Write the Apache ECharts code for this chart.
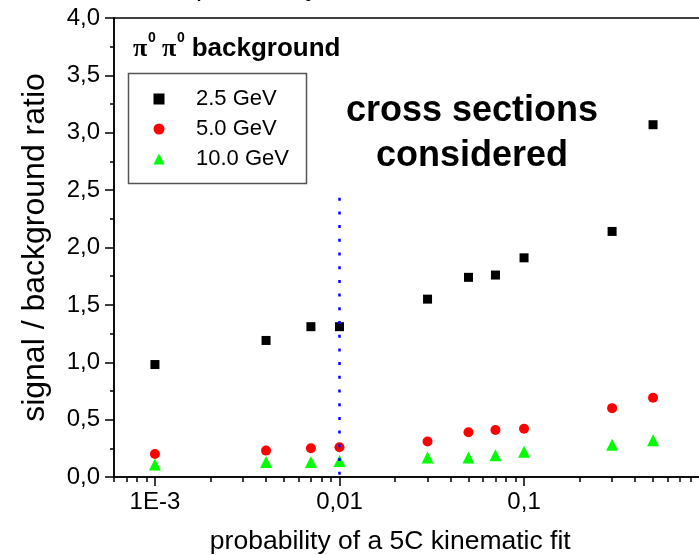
<!DOCTYPE html>
<html><head><meta charset="utf-8">
<script src="https://cdn.jsdelivr.net/npm/echarts@6/dist/echarts.min.js"></script>
<style>html,body{margin:0;padding:0;background:#fff;}#c{width:699px;height:555px;}</style>
</head><body><div id="c"></div>
<script>
// ---- data ----
const probabilities = [0.001, 0.004, 0.007, 0.01, 0.03, 0.05, 0.07, 0.1, 0.3, 0.5];
const ratio25GeV = [0.98, 1.19, 1.31, 1.31, 1.55, 1.74, 1.76, 1.91, 2.14, 3.07];
const ratio50GeV = [0.20, 0.23, 0.25, 0.26, 0.31, 0.39, 0.41, 0.42, 0.60, 0.69];
const ratio100GeV = [0.11, 0.13, 0.13, 0.14, 0.17, 0.17, 0.19, 0.22, 0.28, 0.32];
const seriesNames = ['2.5 GeV', '5.0 GeV', '10.0 GeV'];
const cutProbability = 0.01;
const cutLineRange = [0.02, 2.44];
const xMajorTicks = [0.001, 0.01, 0.1];
const xMajorLabels = ['1E-3', '0,01', '0,1'];
const xMinorTicks = [0.0006, 0.0007, 0.0008, 0.0009,
  0.002, 0.003, 0.004, 0.005, 0.006, 0.007, 0.008, 0.009,
  0.02, 0.03, 0.04, 0.05, 0.06, 0.07, 0.08, 0.09,
  0.2, 0.3, 0.4, 0.5, 0.6, 0.7, 0.8, 0.9];
const xRange = [0.0006, 1];
const yRange = [0, 4];
const yStep = 0.5;

const FONT = "'Liberation Sans', Arial, sans-serif";
const pairs = ys => probabilities.map((p, i) => [p, ys[i]]);

const chart = echarts.init(document.getElementById('c'), null, {renderer: 'canvas'});
chart.setOption({
  animation: false,
  backgroundColor: '#ffffff',
  grid: {left: 114, top: 18, width: 594.6, height: 459, containLabel: false, outerBoundsMode: 'none',
    show: true, borderColor: '#000', borderWidth: 1.5, backgroundColor: 'transparent'},
  xAxis: [{
    type: 'log', logBase: 10, min: xRange[0], max: xRange[1],
    position: 'bottom',
    name: 'probability of a 5C kinematic fit', nameLocation: 'middle', nameGap: 51,
    nameTextStyle: {fontFamily: FONT, fontSize: 26.5, color: '#000', padding: [0, 42, 0, 0]},
    axisLine: {lineStyle: {color: '#000', width: 1.5}},
    axisTick: {show: true, inside: false, length: 9, lineStyle: {color: '#000', width: 1.5}, customValues: xMajorTicks},
    axisLabel: {fontFamily: FONT, fontSize: 24, color: '#000', margin: 13, customValues: xMajorTicks,
      formatter: v => { const i = xMajorTicks.findIndex(t => Math.abs(Math.log10(t) - Math.log10(v)) < 1e-6); return i >= 0 ? xMajorLabels[i] : ''; }},
    splitLine: {show: false}, minorTick: {show: false}
  }, {
    type: 'log', logBase: 10, min: xRange[0], max: xRange[1],
    position: 'bottom',
    axisLine: {show: false},
    axisTick: {show: true, inside: false, length: 5, lineStyle: {color: '#000', width: 1.5}, customValues: xMinorTicks},
    axisLabel: {show: false},
    splitLine: {show: false}
  }],
  yAxis: {
    type: 'value', min: yRange[0], max: yRange[1], interval: yStep,
    name: 'signal / background ratio', nameLocation: 'middle', nameGap: 63,
    nameTextStyle: {fontFamily: FONT, fontSize: 32, color: '#000'},
    axisLine: {show: true, lineStyle: {color: '#000', width: 1.5}},
    axisTick: {show: true, inside: false, length: 9, lineStyle: {color: '#000', width: 1.5}},
    minorTick: {show: true, splitNumber: 2, length: 4, lineStyle: {color: '#000', width: 1.5}},
    axisLabel: {fontFamily: FONT, fontSize: 24, color: '#000', margin: 14, formatter: v => v.toFixed(1).replace('.', ',')},
    splitLine: {show: false}
  },
  legend: {
    data: seriesNames, orient: 'vertical', left: 153.5, top: 87, padding: 0,
    itemWidth: 11, itemHeight: 11, itemGap: 6, symbolKeepAspect: true,
    textStyle: {fontFamily: FONT, fontSize: 22, color: '#000', lineHeight: 24, padding: [0, 0, 0, 26.5]}
  },
  series: [
    {name: seriesNames[0], type: 'scatter', symbol: 'rect', symbolSize: 9, itemStyle: {color: '#000', opacity: 1}, data: pairs(ratio25GeV), z: 3},
    {name: seriesNames[1], type: 'scatter', symbol: 'circle', symbolSize: 10, itemStyle: {color: '#ff0000', opacity: 1}, data: pairs(ratio50GeV), z: 3},
    {name: seriesNames[2], type: 'scatter', symbol: 'triangle', symbolSize: 12, itemStyle: {color: '#00ff00', opacity: 1}, data: pairs(ratio100GeV), z: 3},
    {name: 'cut', type: 'line', showSymbol: false, symbol: 'none', silent: true, z: 4,
      lineStyle: {color: '#0000ff', width: 2.5, type: [3, 10.7], opacity: 1},
      data: [[cutProbability, cutLineRange[0]], [cutProbability, cutLineRange[1]]]}
  ],
  graphic: [
    {type: 'rect', shape: {x: 128.5, y: 73.5, width: 178, height: 110}, style: {fill: 'none', stroke: '#555', lineWidth: 1.5}, z: 10},
    {type: 'text', x: 133, y: 49.5, style: {text: 'π', font: "bold 26px 'Liberation Serif', serif", fill: '#000', verticalAlign: 'middle'}, z: 10},
    {type: 'text', x: 148, y: 38, style: {text: '0', font: "bold 14px 'Liberation Sans', sans-serif", fill: '#000', verticalAlign: 'middle'}, z: 10},
    {type: 'text', x: 162, y: 49.5, style: {text: 'π', font: "bold 26px 'Liberation Serif', serif", fill: '#000', verticalAlign: 'middle'}, z: 10},
    {type: 'text', x: 177, y: 38, style: {text: '0', font: "bold 14px 'Liberation Sans', sans-serif", fill: '#000', verticalAlign: 'middle'}, z: 10},
    {type: 'text', x: 191.7, y: 49.3, style: {text: 'background', font: "bold 26px 'Liberation Sans', sans-serif", fill: '#000', verticalAlign: 'middle'}, z: 10},
    {type: 'text', x: 472, y: 134, style: {text: 'cross sections\nconsidered', font: "bold 36px 'Liberation Sans', sans-serif", lineHeight: 45, fill: '#000', align: 'center', verticalAlign: 'middle'}, z: 10},
    {type: 'text', x: 196, y: -12.4, style: {text: 'probability', font: "27px 'Liberation Sans', sans-serif", fill: '#000', verticalAlign: 'middle'}, z: 10}
  ]
});
</script></body></html>
